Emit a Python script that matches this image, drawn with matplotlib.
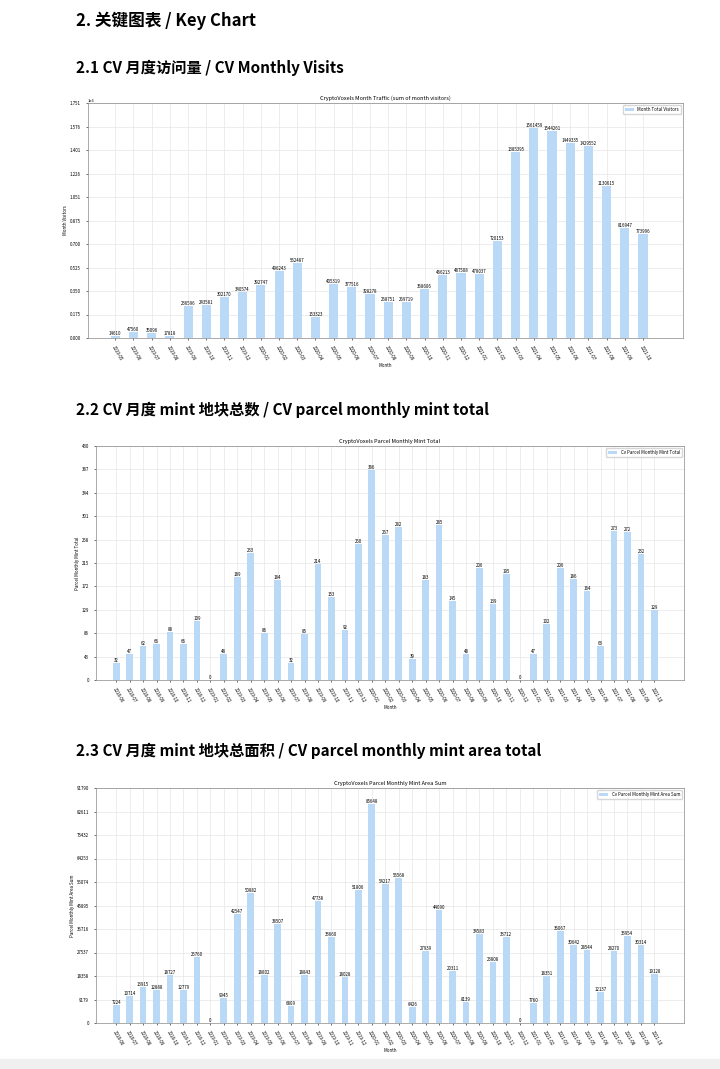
import numpy as np
import matplotlib.pyplot as plt

plt.rcParams['font.family'] = ['Noto Sans CJK SC', 'DejaVu Sans']


def months(y0, m0, y1, m1):
    out = []
    y, m = y0, m0
    while (y, m) <= (y1, m1):
        out.append("%d-%02d" % (y, m))
        m += 1
        if m > 12:
            y, m = y + 1, 1
    return out


visit_months = months(2019, 5, 2021, 10)
visits = [14610, 47560, 35096, 17818, 236596, 243581, 302170, 340574, 392747,
          496243, 562487, 153323, 405319, 377516, 328278, 268751, 269719, 368606,
          466213, 487508, 478037, 720153, 1385395, 1561459, 1544261, 1449335,
          1429552, 1130615, 816947, 773996]

mint_months = months(2018, 6, 2021, 10)
mint_count = [32, 47, 62, 66, 88, 66, 109, 0, 48, 189, 233, 86, 184, 32, 85, 214,
              153, 92, 250, 386, 267, 282, 39, 183, 285, 145, 48, 206, 139, 195,
              0, 47, 102, 206, 186, 164, 63, 273, 272, 232, 129]
mint_area = [7224, 10714, 13915, 12888, 18727, 12779, 25760, 0, 9945, 42547, 50882,
             18802, 38507, 6809, 18843, 47738, 33660, 18028, 51806, 85648, 54217,
             56568, 6426, 27939, 44090, 20311, 8139, 34583, 23808, 33712, 0, 7760,
             18351, 36067, 30642, 28544, 12137, 28270, 33954, 30314, 19128]

BAR = '#b9d9f6'
fig = plt.figure(figsize=(7.2, 10.69), dpi=100)
W, H = 720, 1069


def px(x0, y0, x1, y1):
    return [x0 / W, 1 - y1 / H, (x1 - x0) / W, (y1 - y0) / H]


fig.text(76 / W, 1 - 21 / H, "2. 关键图表 / Key Chart", fontsize=12, weight='bold', va='center')
fig.text(76 / W, 1 - 68 / H, "2.1 CV 月度访问量 / CV Monthly Visits", fontsize=11, weight='bold', va='center')
fig.text(76 / W, 1 - 410 / H, "2.2 CV 月度 mint 地块总数 / CV parcel monthly mint total", fontsize=11, weight='bold', va='center')
fig.text(76 / W, 1 - 751 / H, "2.3 CV 月度 mint 地块总面积 / CV parcel monthly mint area total", fontsize=11, weight='bold', va='center')


def chart(rect, labels, vals, ymax, title, ylabel, leg, sci=False):
    ax = fig.add_axes(px(*rect))
    x = np.arange(len(labels))
    ax.bar(x, vals, width=0.5, color=BAR, label=leg, zorder=2)
    for xi, v in zip(x, vals):
        ax.text(xi, v, str(v), ha='center', va='bottom', fontsize=3.2)
    ax.set_ylim(0, ymax)
    ticks = np.linspace(0, ymax, 11)
    ax.set_yticks(ticks)
    if sci:
        ax.set_yticklabels(["%.3f" % (t / 1e6) for t in ticks])
        ax.text(0, 1.0, "1e6", transform=ax.transAxes, fontsize=3, va='bottom')
    else:
        ax.set_yticklabels([str(int(round(t))) for t in ticks])
    ax.set_xticks(x)
    ax.set_xticklabels(labels, rotation=-60, ha='left', rotation_mode='anchor')
    ax.set_xlim(-1.5, len(labels) + 1.2)
    ax.tick_params(labelsize=3.2, length=1.5, width=0.4)
    ax.grid(True, color='#e6e6e6', linewidth=0.5, zorder=0)
    ax.set_title(title, fontsize=4, pad=2)
    ax.set_xlabel("Month", fontsize=3.2, labelpad=1, loc='center')
    ax.set_ylabel(ylabel, fontsize=3.2, labelpad=1)
    for s in ax.spines.values():
        s.set_linewidth(0.5)
        s.set_color('#888888')
    ax.legend(loc='upper right', fontsize=3.2, frameon=True, handlelength=2)


chart((88, 103, 683, 338), visit_months, visits, 1751000,
      "CryptoVoxels Month Traffic (sum of month visitors)", "Month Visitors",
      "Month Total Visitors", sci=True)
chart((96, 446, 684, 680), mint_months, mint_count, 430,
      "CryptoVoxels Parcel Monthly Mint Total", "Parcel Monthly Mint Total",
      "Cv Parcel Monthly Mint Total")
chart((96, 788, 684, 1023), mint_months, mint_area, 91790,
      "CryptoVoxels Parcel Monthly Mint Area Sum", "Parcel Monthly Mint Area Sum",
      "Cv Parcel Monthly Mint Area Sum")

fig.patches.append(plt.Rectangle((0, 0), 1, 10 / H, transform=fig.transFigure,
                                 color='#f0f0f0', zorder=0))
fig.savefig("out.png", dpi=100)
